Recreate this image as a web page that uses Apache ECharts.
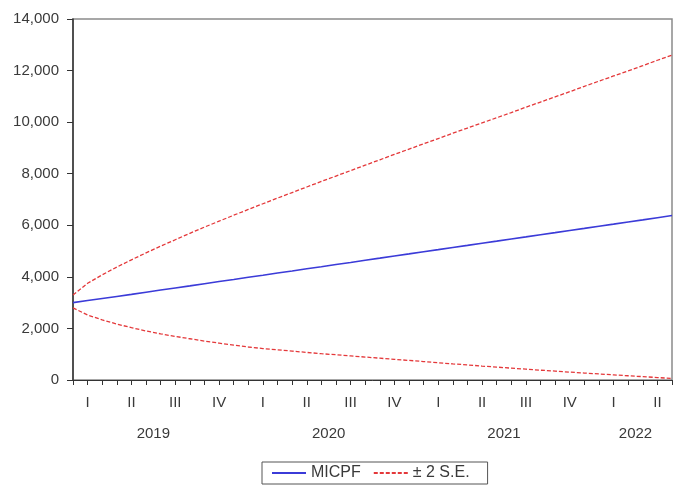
<!DOCTYPE html>
<html>
<head>
<meta charset="utf-8">
<script src="https://cdn.jsdelivr.net/npm/echarts@6/dist/echarts.min.js"></script>
<style>
  html, body { margin: 0; padding: 0; background: #fff; }
  #main { width: 675px; height: 492px; }
</style>
</head>
<body>
<div id="main"></div>
<script>
// monthly forecast periods
const months = [
  '2019M01', '2019M02', '2019M03', '2019M04', '2019M05', '2019M06',
  '2019M07', '2019M08', '2019M09', '2019M10', '2019M11', '2019M12',
  '2020M01', '2020M02', '2020M03', '2020M04', '2020M05', '2020M06',
  '2020M07', '2020M08', '2020M09', '2020M10', '2020M11', '2020M12',
  '2021M01', '2021M02', '2021M03', '2021M04', '2021M05', '2021M06',
  '2021M07', '2021M08', '2021M09', '2021M10', '2021M11', '2021M12',
  '2022M01', '2022M02', '2022M03', '2022M04', '2022M05', '2022M06'
];

const micpf = [
  3000, 3080, 3160, 3240, 3320, 3405, 3490, 3570, 3650, 3735, 3820, 3900,
  3985, 4065, 4150, 4230, 4315, 4395, 4480, 4560, 4645, 4725, 4810, 4890,
  4975, 5055, 5140, 5220, 5305, 5385, 5470, 5550, 5635, 5715, 5800, 5880,
  5965, 6045, 6130, 6210, 6295, 6380
];

const upper = [
  3300, 3750, 4080, 4380, 4660, 4930, 5190, 5440, 5690, 5930, 6160, 6390,
  6615, 6835, 7055, 7270, 7485, 7700, 7910, 8120, 8330, 8540, 8750, 8955,
  9160, 9365, 9570, 9770, 9970, 10170, 10370, 10580, 10780, 10980, 11180, 11390,
  11590, 11790, 11990, 12190, 12400, 12600
];

const lower = [
  2800, 2520, 2330, 2170, 2030, 1900, 1790, 1690, 1600, 1510, 1430, 1350,
  1280, 1220, 1170, 1120, 1070, 1020, 980, 935, 890, 845, 800, 760,
  715, 670, 625, 585, 540, 500, 460, 420, 380, 345, 305, 270,
  235, 200, 165, 130, 95, 60
];

const quarterLabels = ['I', 'II', 'III', 'IV'];

// year label sits in the middle of the months it covers
const yearCenters = {};
(function () {
  const span = {};
  months.forEach((m, i) => {
    const y = m.slice(0, 4);
    if (!span[y]) span[y] = [i, i];
    span[y][1] = i;
  });
  Object.keys(span).forEach(y => {
    yearCenters[(span[y][0] + span[y][1]) / 2] = y;
  });
})();

const font = 'Liberation Sans, Arial, sans-serif';
const txt = '#3a3a3a';

const chart = echarts.init(document.getElementById('main'));

chart.setOption({
  animation: false,
  backgroundColor: '#fff',
  grid: {
    left: 73,
    right: 1,
    top: 19,
    bottom: 112,
    show: true,
    borderColor: '#8a8a8a',
    borderWidth: 1.5
  },
  legend: {
    left: 262,
    top: 462,
    padding: [3, 18, 3, 9],
    borderColor: '#555',
    borderWidth: 1,
    itemWidth: 34,
    itemHeight: 12,
    itemGap: 12,
    itemStyle: { opacity: 0 },
    textStyle: { fontFamily: font, fontSize: 16, color: txt },
    data: ['MICPF', '± 2 S.E.']
  },
  xAxis: [
    {
      type: 'category',
      data: months,
      boundaryGap: false,
      axisLine: { lineStyle: { color: '#333', width: 1 } },
      axisTick: {
        inside: false,
        length: 5,
        interval: 0,
        lineStyle: { color: '#333' }
      },
      axisLabel: {
        interval: 0,
        margin: 15,
        fontFamily: font,
        fontSize: 15,
        color: txt,
        formatter: function (v, i) {
          const m = parseInt(v.slice(5), 10) - 1;
          return m % 3 === 1 ? quarterLabels[Math.floor(m / 3)] : '';
        }
      },
      splitLine: { show: false }
    },
    {
      type: 'value',
      position: 'bottom',
      min: 0,
      max: months.length - 1,
      interval: 0.5,
      axisLine: { show: false },
      axisTick: { show: false },
      splitLine: { show: false },
      axisLabel: {
        margin: 46,
        fontFamily: font,
        fontSize: 15,
        color: txt,
        showMinLabel: true,
        showMaxLabel: true,
        formatter: function (v) {
          return yearCenters[v] || '';
        }
      }
    }
  ],
  yAxis: {
    type: 'value',
    min: 0,
    max: 14000,
    interval: 2000,
    axisLine: { show: true, lineStyle: { color: '#333', width: 1.5 } },
    axisTick: { show: true, length: 6, lineStyle: { color: '#333' } },
    splitLine: { show: false },
    axisLabel: {
      margin: 14,
      fontFamily: font,
      fontSize: 15,
      color: txt,
      formatter: function (v) {
        return v.toLocaleString('en-US');
      }
    }
  },
  series: [
    {
      name: 'MICPF',
      type: 'line',
      data: micpf,
      showSymbol: false,
      symbol: 'none',
      lineStyle: { color: '#3b3bd8', width: 1.6 },
      itemStyle: { color: '#3b3bd8' }
    },
    {
      name: '± 2 S.E.',
      type: 'line',
      data: upper,
      showSymbol: false,
      symbol: 'none',
      lineStyle: { color: '#e4383a', width: 1.3, type: [4, 2] },
      itemStyle: { color: '#e4383a' }
    },
    {
      name: '± 2 S.E.',
      type: 'line',
      data: lower,
      showSymbol: false,
      symbol: 'none',
      lineStyle: { color: '#e4383a', width: 1.3, type: [4, 2] },
      itemStyle: { color: '#e4383a' }
    }
  ]
});
</script>
</body>
</html>
